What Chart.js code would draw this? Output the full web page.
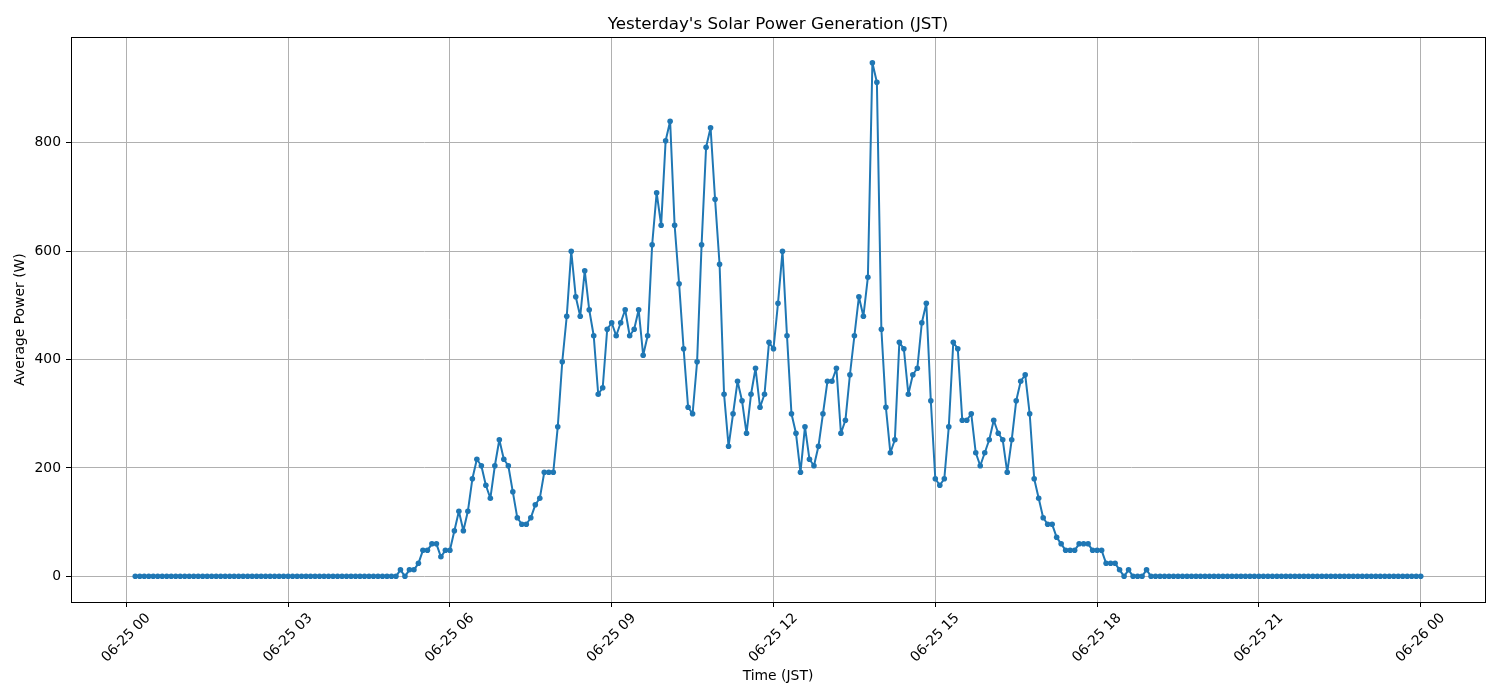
<!DOCTYPE html>
<html>
<head>
<meta charset="utf-8">
<style>
  body { margin: 0; background: #fff; }
</style>
</head>
<body>
<canvas id="solarChart" width="1500" height="700"></canvas>
<script src="https://cdn.jsdelivr.net/npm/chart.js@4.4.1/dist/chart.umd.min.js"></script>
<script>
// 5-minute average power for 06-25, first sample at 00:10, last at 24:00
const startMinute = 10;
const stepMinutes = 5;
const powerW = [
  0, 0, 0, 0, 0, 0, 0, 0, 0, 0, 0, 0, 0, 0, 0, 0, 0, 0, 0, 0,
  0, 0, 0, 0, 0, 0, 0, 0, 0, 0, 0, 0, 0, 0, 0, 0, 0, 0, 0, 0,
  0, 0, 0, 0, 0, 0, 0, 0, 0, 0, 0, 0, 0, 0, 0, 0, 0, 0, 0,
  12, 0, 12, 12, 24, 48, 48, 60, 60, 36, 48, 48, 84, 120, 84, 120, 180, 216, 204, 168,
  144, 204, 252, 216, 204, 156, 108, 96, 96, 108, 132, 144, 192, 192, 192, 276, 396, 480, 600, 516,
  480, 564, 492, 444, 336, 348, 456, 468, 444, 468, 492, 444, 456, 492, 408, 444, 612, 708, 648, 804,
  840, 648, 540, 420, 312, 300, 396, 612, 792, 828, 696, 576, 336, 240, 300, 360, 324, 264, 336, 384,
  312, 336, 432, 420, 504, 600, 444, 300, 264, 192, 276, 216, 204, 240, 300, 360, 360, 384, 264, 288,
  372, 444, 516, 480, 552, 948, 912, 456, 312, 228, 252, 432, 420, 336, 372, 384, 468, 504, 324, 180,
  168, 180, 276, 432, 420, 288, 288, 300, 228, 204, 228, 252, 288, 264, 252, 192, 252, 324, 360, 372,
  300, 180, 144, 108, 96, 96, 72, 60, 48, 48, 48, 60, 60, 60, 48, 48, 48, 24, 24, 24,
  12, 0, 12, 0, 0, 0, 12,
  0, 0, 0, 0, 0, 0, 0, 0, 0, 0, 0, 0, 0, 0, 0, 0, 0, 0, 0, 0,
  0, 0, 0, 0, 0, 0, 0, 0, 0, 0, 0, 0, 0, 0, 0, 0, 0, 0, 0, 0,
  0, 0, 0, 0, 0, 0, 0, 0, 0, 0, 0, 0, 0, 0, 0, 0, 0, 0, 0, 0, 0
];
const xTickMinutes = [0, 180, 360, 540, 720, 900, 1080, 1260, 1440];
const xTickLabels = ['06-25 00', '06-25 03', '06-25 06', '06-25 09', '06-25 12',
                     '06-25 15', '06-25 18', '06-25 21', '06-26 00'];
const yTickValues = [0, 200, 400, 600, 800];
const chartTitle = "Yesterday's Solar Power Generation (JST)";

const points = powerW.map((w, i) => ({ x: startMinute + i * stepMinutes, y: w }));

// matplotlib-style 5% margins
const xFirst = startMinute, xLast = startMinute + (powerW.length - 1) * stepMinutes;
const yLo = Math.min(...powerW), yHi = Math.max(...powerW);
const xPad = (xLast - xFirst) * 0.05, yPad = (yHi - yLo) * 0.05;

Chart.defaults.font.family = 'DejaVu Sans';
Chart.defaults.color = '#000';

// axes box on all four sides + title centred over the plot area
const framePlugin = {
  id: 'frame',
  afterDraw(chart) {
    const { ctx, chartArea: a } = chart;
    const x0 = Math.round(a.left) + 0.5, y0 = Math.round(a.top) + 0.5;
    const x1 = Math.round(a.right) + 0.5, y1 = Math.round(a.bottom) + 0.5;
    ctx.save();
    ctx.strokeStyle = '#000';
    ctx.lineWidth = 1;
    ctx.strokeRect(x0, y0, x1 - x0, y1 - y0);
    ctx.font = '16.7px "DejaVu Sans"';
    ctx.fillStyle = '#000';
    ctx.textAlign = 'center';
    ctx.textBaseline = 'middle';
    ctx.fillText(chartTitle, (a.left + a.right) / 2, 24.5);
    ctx.restore();
  }
};

new Chart('solarChart', {
  type: 'line',
  data: {
    datasets: [{
      data: points,
      borderColor: '#1f77b4',
      backgroundColor: '#1f77b4',
      borderWidth: 2,
      borderJoinStyle: 'round',
      pointRadius: 2.8,
      pointBorderWidth: 0,
      pointBackgroundColor: '#1f77b4',
      tension: 0,
      fill: false
    }]
  },
  options: {
    responsive: false,
    animation: false,
    devicePixelRatio: 1,
    layout: { padding: { left: 0, right: 15, top: 37, bottom: 0 } },
    plugins: {
      legend: { display: false },
      tooltip: { enabled: false },
      title: { display: false }
    },
    scales: {
      x: {
        type: 'linear',
        min: xFirst - xPad,
        max: xLast + xPad,
        afterBuildTicks: s => { s.ticks = xTickMinutes.map(v => ({ value: v })); },
        afterFit: s => { s.height = 98; },
        ticks: {
          autoSkip: false,
          minRotation: 45,
          maxRotation: 45,
          padding: 3,
          labelOffset: 22,
          font: { size: 13.9 },
          callback: v => xTickLabels[xTickMinutes.indexOf(v)]
        },
        grid: { color: '#b0b0b0', lineWidth: 1, tickLength: 5, tickColor: '#000' },
        border: { display: false },
        title: {
          display: true,
          text: 'Time (JST)',
          font: { size: 13.9 },
          padding: { top: 4, bottom: 15 }
        }
      },
      y: {
        min: yLo - yPad,
        max: yHi + yPad,
        afterBuildTicks: s => { s.ticks = yTickValues.map(v => ({ value: v })); },
        afterFit: s => { s.width = 71; },
        ticks: { padding: 5, font: { size: 13.9 } },
        grid: { color: '#b0b0b0', lineWidth: 1, tickLength: 5, tickColor: '#000' },
        border: { display: false },
        title: {
          display: true,
          text: 'Average Power (W)',
          font: { size: 13.9 },
          padding: { top: 12, bottom: 0 }
        }
      }
    }
  },
  plugins: [framePlugin]
});
</script>
</body>
</html>
